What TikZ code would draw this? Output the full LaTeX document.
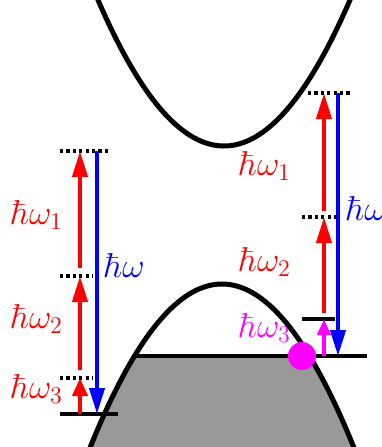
\documentclass[tikz,border=0pt]{standalone}
\usetikzlibrary{arrows.meta}
\definecolor{holeMagenta}{RGB}{255,0,255}
\tikzset{
	band/.style={line width=2.5pt, draw=black},
	level/.style={line width=2pt, draw=black},
	virtual/.style={line width=1.8pt, dash pattern=on 1.6pt off 1.6pt},
	photon/.style={line width=2pt, -{Triangle[length=13pt, width=7.5pt]}},
	shortphoton/.style={line width=2pt, -{Triangle[length=9pt, width=7.5pt]}},
	lbl/.style={font=\fontsize{17.5}{20}\selectfont, inner sep=0pt}
}
\begin{document}
\begin{tikzpicture}[x=0.5pt, y=-0.5pt]
	\clip (0,0) rectangle (382,447);
	% conduction band
	\draw[band] plot[domain=80:370, samples=90] (\x, {146-0.92*((\x-224)/10)^2});
	% valence band, filled below the Fermi level
	\begin{scope}
		\clip (0,356) rectangle (382,447);
		\fill[black!40] plot[domain=70:380, samples=90] (\x, {284+0.94*((\x-222)/10)^2}) -- cycle;
	\end{scope}
	\draw[band] plot[domain=70:380, samples=90] (\x, {284+0.94*((\x-222)/10)^2});
	\draw[level] (133,356) -- (367,356);
	% left: three-photon ladder
	\coordinate (L0) at (80,414);
	\coordinate (L3) at (80,378);
	\coordinate (L2) at (80,276);
	\coordinate (L1) at (80,151);
	\coordinate (Lb1) at (97,151);
	\coordinate (Lb0) at (97,414);
	\draw[level] (60,414) -- (118,414);
	\draw[virtual] (60,378) -- (93,378);
	\draw[virtual] (60,276) -- (93,276);
	\draw[virtual] (60,151) -- (108,151);
	\draw[shortphoton, red] (L0) -- (L3);
	\draw[photon, red, shorten <=4pt] (L3) -- (L2);
	\draw[photon, red, shorten <=4pt] (L2) -- (L1);
	\draw[photon, blue] (Lb1) -- (Lb0);
	\node[lbl, red] (lw1) at (37,215) {$\hbar\omega_1$};
	\node[lbl, red] (lw2) at (37,319) {$\hbar\omega_2$};
	\node[lbl, red] (lw3) at (37,389) {$\hbar\omega_3$};
	\node[lbl, blue, anchor=west] (lw) at (104,265) {$\hbar\omega$};
	% right: ladder starting from the hole
	\coordinate (R0) at (324,356);
	\coordinate (R3) at (324,319);
	\coordinate (R2) at (324,217);
	\coordinate (R1) at (324,93);
	\coordinate (Rb1) at (338,93);
	\coordinate (Rb0) at (338,356);
	\draw[level] (302,319) -- (335,319);
	\draw[virtual] (302,217) -- (337,217);
	\draw[virtual] (308,93) -- (350,93);
	\draw[holeMagenta, line width=2pt, -{Triangle[length=8pt, width=6.5pt]}] (R0) -- (R3);
	\draw[photon, red, shorten <=3pt] (R3) -- (R2);
	\draw[photon, red, shorten <=3pt] (R2) -- (R1);
	\draw[photon, blue] (Rb1) -- (Rb0);
	\node[lbl, red] (rw1) at (265,166) {$\hbar\omega_1$};
	\node[lbl, red] (rw2) at (265,262) {$\hbar\omega_2$};
	\node[lbl, holeMagenta] (rw3) at (265,328) {$\hbar\omega_3$};
	\node[lbl, blue, anchor=west] (rw) at (346,208) {$\hbar\omega$};
	% hole
	\fill[holeMagenta] (302,356) circle[radius=14];
\end{tikzpicture}
\end{document}
